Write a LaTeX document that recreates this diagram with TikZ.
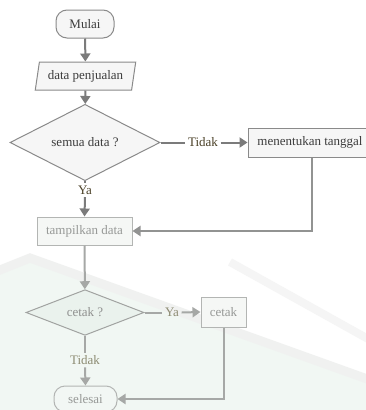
\documentclass[tikz,border=0pt]{standalone}
\usepackage{fontspec}
\setmainfont{Liberation Serif}
\usetikzlibrary{shapes.geometric,arrows.meta}

\definecolor{lineA}{HTML}{7B7B7B}
\definecolor{lineB}{HTML}{A6A8A6}
\definecolor{lineM}{HTML}{929392}
\definecolor{edgeA}{HTML}{8A8A8A}
\definecolor{edgeB}{HTML}{B3B5B3}
\definecolor{fillA}{HTML}{F6F6F6}
\definecolor{fillB}{HTML}{F5F7F5}
\definecolor{fillG}{HTML}{EAF2ED}
\definecolor{textA}{HTML}{3C3C3C}
\definecolor{textB}{HTML}{979997}
\definecolor{labA}{HTML}{4B4128}
\definecolor{labB}{HTML}{8D8C73}
\definecolor{paleG}{HTML}{F1F7F3}
\definecolor{band}{HTML}{F0F1F0}

\tikzset{
  base/.style={font=\fontsize{13}{15}\selectfont, inner sep=0pt, line width=1pt},
  boxA/.style={base, draw=edgeA, fill=fillA, text=textA},
  boxB/.style={base, draw=edgeB, fill=fillB, text=textB},
  termbox/.style={rectangle, rounded corners=11pt},
  iobox/.style={trapezium, trapezium left angle=74, trapezium right angle=106,
                trapezium stretches=true},
  decision/.style={diamond},
  lab/.style={font=\fontsize{13}{15}\selectfont, inner sep=2.5pt},
  tip/.style={-{Triangle[length=8pt,width=10pt]}},
  linkA/.style={draw=lineA, line width=2pt},
  linkB/.style={draw=lineB, line width=2pt},
  linkM/.style={draw=lineM, line width=2pt},
  arrA/.style={linkA, tip},
  arrB/.style={linkB, tip},
  arrM/.style={linkM, tip},
}

\begin{document}
\begin{tikzpicture}[x=1pt, y=-1pt]
  \useasboundingbox (0,0) rectangle (366,410);
  \fill[white] (0,0) rectangle (366,410);

  % faint background emblem
  \fill[paleG] (0,268) -- (30,260) -- (366,382) -- (366,410) -- (0,410) -- cycle;
  \draw[band, line width=9pt, line cap=round] (-5,272) -- (30,258) -- (370,380);
  \draw[band!70!white, line width=8pt] (230,262) -- (370,340);

  % nodes
  \node[boxA, termbox, minimum width=58pt, minimum height=28pt] (mulai) at (85,24) {Mulai};
  \node[boxA, iobox, minimum width=101pt, minimum height=28pt] (data) at (85.5,76) {data penjualan};
  \node[boxA, decision, minimum width=150pt, minimum height=54pt] (semua) at (85,142.5) {semua data ?};
  \node[boxA, rectangle, minimum width=124pt, minimum height=29pt] (tanggal) at (310,142.5) {menentukan tanggal};
  \node[boxB, rectangle, minimum width=95pt, minimum height=28pt] (tampil) at (84.5,231) {tampilkan data};
  \node[boxB, decision, fill=fillG, draw=edgeB!90!black, minimum width=118pt, minimum height=41pt,
        text=textB!95!black] (cetaktanya) at (85,312.5) {cetak ?};
  \node[boxB, rectangle, minimum width=45pt, minimum height=30pt] (cetak) at (223.5,312) {cetak};
  \node[boxB, termbox, fill=fillG!60!white, minimum width=63pt, minimum height=26pt] (selesai) at (85.5,399) {selesai};

  % branch labels
  \node[lab, text=labA] (ya1) at (85,190) {Ya};
  \node[lab, text=labA] (tidak1) at (203,142.5) {Tidak};
  \node[lab, text=labB] (ya2) at (172,312.5) {Ya};
  \node[lab, text=labB] (tidak2) at (85,360) {Tidak};

  % connectors
  \draw[arrA] (mulai) -- (data);
  \draw[arrA] (data) -- (semua);
  \draw[linkA] (semua.east) -- (tidak1.west);
  \draw[arrA] (tidak1.east) -- (tanggal.west);
  \draw[linkA] (semua.south) -- (ya1.north);
  \draw[arrA] (ya1.south) -- (tampil.north);
  \draw[arrM] ([xshift=2pt]tanggal.south) |- (tampil.east);
  \draw[arrB] (tampil) -- (cetaktanya);
  \draw[linkB] (cetaktanya.east) -- (ya2.west);
  \draw[arrB] (ya2.east) -- (cetak.west);
  \draw[linkB] (cetaktanya.south) -- (tidak2.north);
  \draw[arrB] (tidak2.south) -- (selesai.north);
  \draw[arrB] (cetak.south) |- (selesai.east);
\end{tikzpicture}
\end{document}
